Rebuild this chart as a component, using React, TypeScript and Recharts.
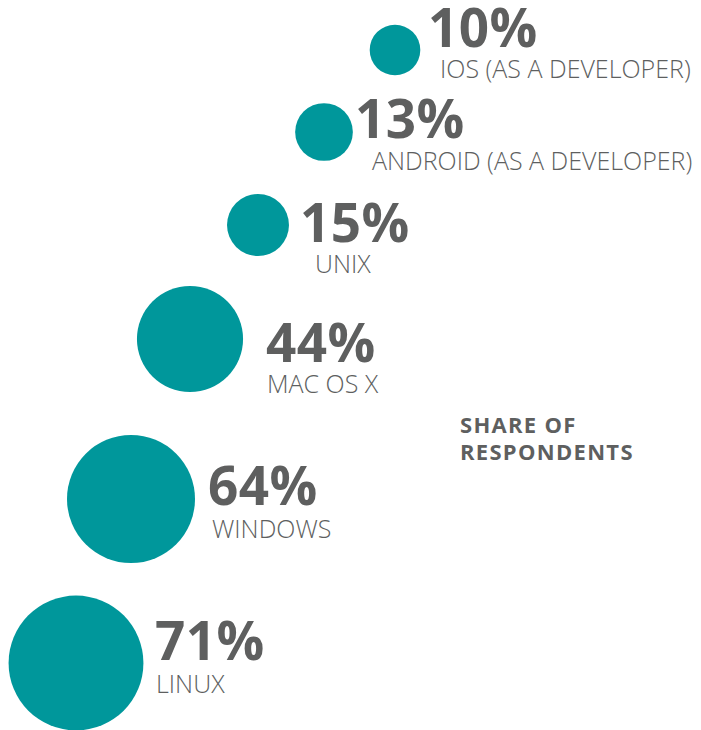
import React from "react";
import { ScatterChart, Scatter, XAxis, YAxis, ZAxis } from "recharts";

// ---- data ----
const platforms = [
  "IOS (AS A DEVELOPER)",
  "ANDROID (AS A DEVELOPER)",
  "UNIX",
  "MAC OS X",
  "WINDOWS",
  "LINUX",
];
const shares = [10, 13, 15, 44, 64, 71];

// ---- infographic layout (bubble centre in layout units, label offsets) ----
const bubbleX = [395, 324, 258, 190, 131, 76];
const bubbleY = [50, 132, 225, 339, 499, 663];
const pctOffsetX = [33, 31, 42, 76, 77, 79];
const pctOffsetY = [-3, 6, 17, 23, 6, -3];
const nameOffsetX = [45, 48, 57, 77, 81, 80];
const nameOffsetY = [28, 38, 48, 54, 39, 30];

const W = 701;
const H = 730;
const TEAL = "#00979B";
const GRAY = "#5E5F5F";
const FONT = "'Open Sans', 'Noto Sans', sans-serif";

const rows = platforms.map((name, i) => ({
  name,
  share: shares[i],
  x: bubbleX[i],
  y: bubbleY[i],
  idx: i,
}));

const BubbleShape = (props: any) => {
  const { cx, cy, payload } = props;
  const r =
    props.width != null ? props.width / 2 : Math.sqrt((props.size || 0) / Math.PI);
  const i = payload.idx;
  return (
    <g>
      <circle cx={cx} cy={cy} r={r} fill={TEAL} />
      <text
        x={cx + pctOffsetX[i]}
        y={cy + pctOffsetY[i]}
        fontFamily={FONT}
        fontWeight={700}
        fontSize={53}
        fill={GRAY}
        letterSpacing={0.5}
      >
        {payload.share}%
      </text>
      <text
        x={cx + nameOffsetX[i]}
        y={cy + nameOffsetY[i]}
        fontFamily={FONT}
        fontWeight={300}
        fontSize={25}
        fill={GRAY}
      >
        {payload.name}
      </text>
    </g>
  );
};

export default function App() {
  return (
    <div style={{ position: "absolute", left: 0, top: 0, width: W, height: H, background: "#fff" }}>
      <ScatterChart width={W} height={H} margin={{ top: 0, right: 0, bottom: 0, left: 0 }}>
        <XAxis type="number" dataKey="x" domain={[0, W]} hide />
        <YAxis type="number" dataKey="y" domain={[0, H]} reversed hide />
        <ZAxis type="number" dataKey="share" domain={[0, 100]} range={[0, Math.PI * 64 * 100]} />
        <Scatter data={rows} shape={BubbleShape} isAnimationActive={false} />
        <text x={460} y={433} fontFamily={FONT} fontWeight={700} fontSize={22} letterSpacing={1.3} fill={GRAY}>
          SHARE OF
        </text>
        <text x={460} y={460} fontFamily={FONT} fontWeight={700} fontSize={22} letterSpacing={1.3} fill={GRAY}>
          RESPONDENTS
        </text>
      </ScatterChart>
    </div>
  );
}
